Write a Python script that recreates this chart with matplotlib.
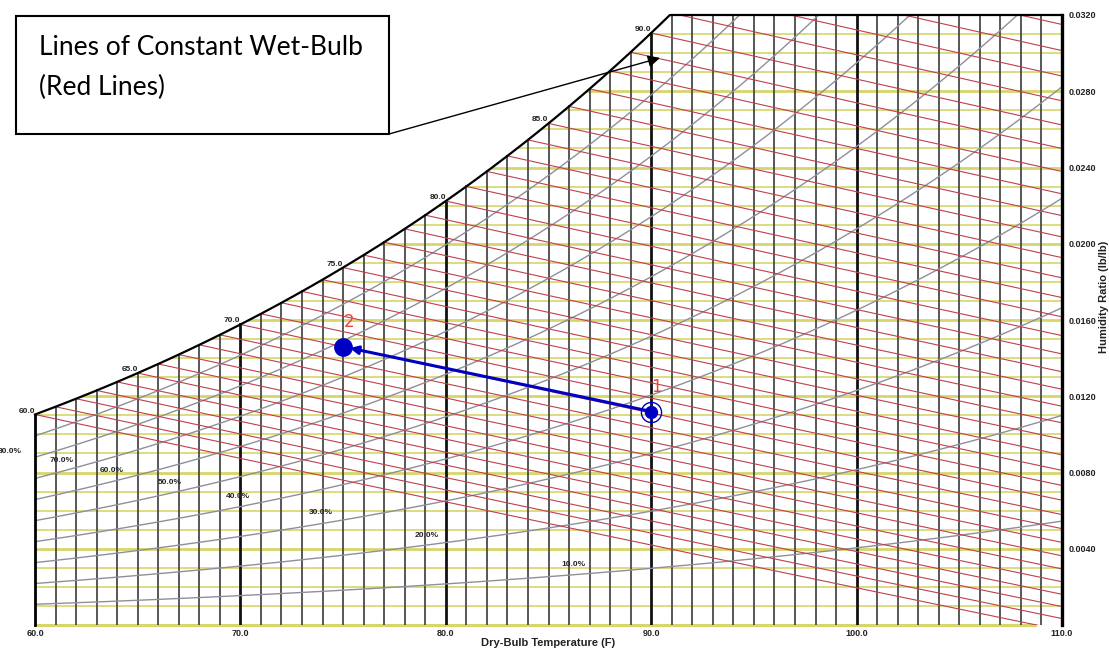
import numpy as np
import matplotlib
matplotlib.use('Agg')
import matplotlib.pyplot as plt
from matplotlib.patches import Polygon, Rectangle

# chart values
dry_bulb_ticks = [60, 70, 80, 90, 100, 110]
w_ticks = [0.004, 0.008, 0.012, 0.016, 0.020, 0.024, 0.028, 0.032]
sat_label_temps = [60, 65, 70, 75, 80, 85, 90]
rh_levels = [10, 20, 30, 40, 50, 60, 70, 80, 90]
wet_bulb_levels = list(range(60, 97))
process_T = [90.0, 75.0]
process_W = [0.0112, 0.0146]
process_names = ['1', '2']
callout_lines = ['Lines of Constant Wet-Bulb', '(Red Lines)']

# where the RH labels sit (T, W)
rh_label_T = [86.24, 79.08, 73.92, 69.88, 66.57, 63.75, 61.31, 58.78]
rh_label_W = [0.00315, 0.00467, 0.00588, 0.00672, 0.00745, 0.00808, 0.00865, 0.00908]

P_ATM = 14.696
W_MAX = 0.032
T_MIN, T_MAX = 60, 110


def p_sat(t_f):
    """Saturation pressure over water, psia (ASHRAE Hyland-Wexler)."""
    t = np.asarray(t_f, dtype=float) + 459.67
    ln_p = (-1.0440397e4 / t - 1.1294650e1 - 2.7022355e-2 * t + 1.2890360e-5 * t**2
            - 2.4780681e-9 * t**3 + 6.5459673 * np.log(t))
    return np.exp(ln_p)


def w_rh(t_f, rh):
    pw = rh * p_sat(t_f)
    return 0.622 * pw / (P_ATM - pw)


def w_wet_bulb(t_f, twb):
    ws = w_rh(twb, 1.0)
    return ((1093 - 0.556 * twb) * ws - 0.240 * (t_f - twb)) / (1093 + 0.444 * t_f - twb)


fig = plt.figure(figsize=(11.09, 6.5), dpi=100)
ax = fig.add_axes([35 / 1109, 25 / 650, 1027 / 1109, 610 / 650])
ax.set_xlim(T_MIN, T_MAX)
ax.set_ylim(0, W_MAX)
for s in ax.spines.values():
    s.set_visible(False)

t_fine = np.linspace(T_MIN, T_MAX, 1001)
w_top = np.minimum(w_rh(t_fine, 1.0), W_MAX)
verts = np.vstack([[[T_MIN, 0]], np.column_stack([t_fine, w_top]), [[T_MAX, 0]]])
region = Polygon(verts, closed=True, facecolor='none', edgecolor='none')
ax.add_patch(region)

yellow = '#d6d66a'
for k in range(1, 32):
    w = k * 0.001
    thick = (k % 4 == 0)
    ln, = ax.plot([T_MIN, T_MAX], [w, w], color=yellow, lw=2.0 if thick else 1.2, zorder=1)
    ln.set_clip_path(region)
ax.plot([T_MIN, T_MAX - 1.3], [0, 0], color=yellow, lw=2.2, zorder=1, clip_on=False)

for t in range(T_MIN + 1, T_MAX):
    top = min(float(w_rh(t, 1.0)), W_MAX)
    major = (t % 10 == 0)
    ax.plot([t, t], [0, top], color='#111111' if major else '#4a4a4a',
            lw=2.0 if major else 1.3, zorder=2)

for rh in rh_levels:
    w = w_rh(t_fine, rh / 100)
    ln, = ax.plot(t_fine, w, color='#8f8f9c', lw=1.0, zorder=3)
    ln.set_clip_path(region)

for twb in wet_bulb_levels:
    t = np.linspace(twb, T_MAX, 200)
    ln, = ax.plot(t, w_wet_bulb(t, twb), color='#c0404c', lw=0.8, zorder=4)
    ln.set_clip_path(region)

# chart outline
ax.plot(t_fine, w_top, color='black', lw=1.6, zorder=5, clip_on=False)
ax.plot([T_MIN, T_MIN], [0, float(w_rh(T_MIN, 1.0))], color='black', lw=2.0, zorder=5, clip_on=False)
ax.plot([T_MAX, T_MAX], [0, W_MAX], color='black', lw=2.4, zorder=5, clip_on=False)

lab = dict(fontsize=6, fontweight='bold', color='#222222', family='Liberation Sans')
for t in sat_label_temps:
    ax.text(t, float(w_rh(t, 1.0)), f'{t:.1f}', ha='right', va='bottom', zorder=6, **lab)
for rh, tx, wy in zip(rh_levels[:8], rh_label_T, rh_label_W):
    ax.text(tx, wy, f'{rh:.1f}%', ha='center', va='center', zorder=6, clip_on=False, **lab)

# process 1 -> 2
blue = '#0000c4'
ax.annotate('', xy=(process_T[1], process_W[1]), xytext=(process_T[0], process_W[0]),
            arrowprops=dict(arrowstyle='-|>', color=blue, lw=2.2, mutation_scale=12,
                            shrinkA=0, shrinkB=5), zorder=7)
ax.plot(process_T[0], process_W[0], 'o', ms=8.6, color=blue, zorder=8)
ax.plot(process_T[0], process_W[0], 'o', ms=14.5, mfc='none', mec=blue, mew=1.0, zorder=8)
ax.plot(process_T[1], process_W[1], 'o', ms=12.5, color=blue, zorder=8)
for name, tx, wy in zip(process_names, process_T, process_W):
    ax.annotate(name, (tx, wy), xytext=(4, 18), textcoords='offset points',
                ha='center', va='center', color='#e8453c', fontsize=12, zorder=9)

ax.set_xticks(dry_bulb_ticks, labels=[f'{t:.1f}' for t in dry_bulb_ticks])
ax.yaxis.tick_right()
ax.set_yticks(w_ticks, labels=[f'{w:.4f}' for w in w_ticks])
ax.tick_params(length=0, labelsize=6.5)
ax.tick_params(axis='x', pad=3)
ax.tick_params(axis='y', pad=4.5)
for tl in ax.get_xticklabels() + ax.get_yticklabels():
    tl.set_fontweight('bold')
    tl.set_family('Liberation Sans')
    tl.set_color('#222222')

ax.text(0.5, -0.0295, 'Dry-Bulb Temperature (F)', transform=ax.transAxes, ha='center',
        va='center', fontsize=8, fontweight='bold', family='Liberation Sans', color='#222222')
ax.text(1.041, 0.538, 'Humidity Ratio (lb/lb)', transform=ax.transAxes, rotation=90,
        ha='center', va='center', fontsize=8, fontweight='bold', family='Liberation Sans',
        color='#222222')

# callout box
fig.add_artist(Rectangle((16, 650 - 134), 373, 118, transform=None, facecolor='white',
                         edgecolor='black', lw=1.5, zorder=10))
for line, base in zip(callout_lines, [55, 95]):
    fig.text(39 / 1109, 1 - base / 650, line, ha='left', va='baseline',
             fontsize=19, family='Lato', zorder=11)
ax.annotate('', xy=(90.43, 0.02975), xycoords='data', xytext=(389, 650 - 134),
            textcoords='figure pixels',
            arrowprops=dict(arrowstyle='-|>', color='black', lw=1.0, mutation_scale=18,
                            shrinkA=0, shrinkB=0), zorder=11, annotation_clip=False)

fig.savefig('out.png', dpi=100)
